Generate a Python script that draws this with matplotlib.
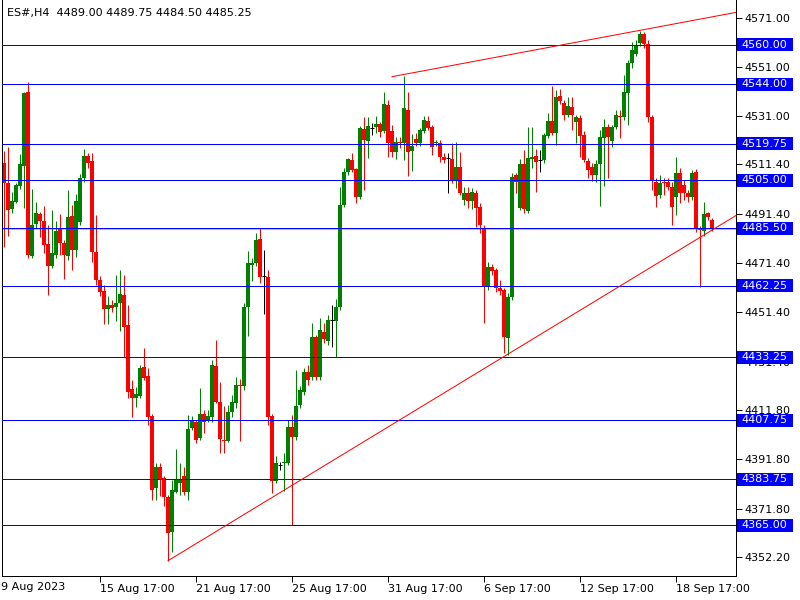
import numpy as np
import matplotlib
matplotlib.use("Agg")
import matplotlib.pyplot as plt
from matplotlib.patches import Rectangle

# ES#, H4 candles (oldest first)
opens = [
    4512.0, 4503.8, 4493.3, 4496.1, 4502.6, 4510.7, 4540.6, 4474.2, 4487.2, 4491.2,
    4488.4, 4479.1, 4470.2, 4474.6, 4485.1, 4479.5, 4474.2, 4490.4, 4476.7, 4488.0,
    4505.8, 4514.7, 4512.7, 4475.8, 4464.5, 4460.0, 4452.8, 4454.4, 4453.6, 4455.2,
    4458.4, 4446.3, 4420.4, 4416.7, 4417.5, 4429.3, 4425.6, 4409.4, 4380.3, 4388.8,
    4384.3, 4376.6, 4362.4, 4378.6, 4382.3, 4385.1, 4378.6, 4404.6, 4407.0, 4400.5,
    4410.2, 4407.8, 4409.0, 4429.7, 4415.1, 4399.7, 4399.3, 4411.1, 4414.7, 4422.0,
    4421.6, 4453.6, 4470.6, 4471.4, 4481.1, 4466.1, 4465.7, 4409.4, 4383.1, 4389.6,
    4390.4, 4390.4, 4405.0, 4400.9, 4413.9, 4419.1, 4427.2, 4425.2, 4441.4, 4425.2,
    4443.4, 4439.8, 4448.3, 4447.9, 4453.6, 4494.9, 4508.2, 4513.1, 4509.5, 4498.1,
    4525.6, 4520.8, 4526.1, 4526.5, 4527.7, 4524.8, 4535.4, 4525.0, 4516.3, 4520.4,
    4520.0, 4533.3, 4516.7, 4521.6, 4520.0, 4524.8, 4528.9, 4526.5, 4520.0, 4520.0,
    4514.3, 4513.9, 4513.5, 4504.6, 4510.3, 4496.9, 4499.7, 4496.5, 4499.7, 4494.1,
    4485.6, 4461.7, 4469.8, 4468.6, 4461.3, 4460.4, 4441.0, 4457.6, 4507.0, 4493.7,
    4511.5, 4492.4, 4513.5, 4514.7, 4513.1, 4513.1, 4522.8, 4528.9, 4524.0, 4539.0,
    4536.2, 4531.3, 4534.6, 4528.5, 4530.1, 4523.2, 4512.7, 4510.3, 4507.0, 4511.5,
    4522.0, 4526.5, 4520.8, 4526.5, 4530.9, 4530.5, 4540.2, 4552.4, 4556.4, 4560.5,
    4564.5, 4560.1, 4530.5, 4504.2, 4498.9, 4504.2, 4504.2, 4502.2, 4498.1, 4507.8,
    4503.0, 4499.7, 4498.1, 4508.2, 4485.6, 4484.3, 4491.6, 4489.00]
highs = [
    4516.7, 4518.4, 4500.1, 4503.8, 4515.5, 4540.6, 4544.7, 4501.4, 4496.1, 4492.0,
    4494.5, 4486.8, 4492.9, 4488.4, 4491.2, 4480.7, 4500.9, 4494.9, 4499.3, 4507.4,
    4517.6, 4515.9, 4515.9, 4490.8, 4466.1, 4462.5, 4458.0, 4456.4, 4466.5, 4468.6,
    4466.5, 4454.4, 4424.0, 4421.2, 4430.1, 4437.0, 4428.9, 4410.2, 4390.4, 4390.4,
    4385.1, 4377.4, 4383.5, 4396.1, 4390.4, 4388.8, 4409.8, 4409.4, 4407.8, 4420.8,
    4411.9, 4411.9, 4432.1, 4440.2, 4423.2, 4413.5, 4413.9, 4417.9, 4425.2, 4424.4,
    4455.2, 4476.2, 4473.4, 4483.5, 4485.6, 4476.6, 4468.6, 4410.2, 4393.2, 4390.8,
    4394.4, 4407.8, 4409.8, 4428.0, 4421.6, 4428.9, 4430.1, 4447.1, 4442.2, 4449.1,
    4447.1, 4450.3, 4454.4, 4456.8, 4502.2, 4509.9, 4513.9, 4515.9, 4509.9, 4526.9,
    4530.5, 4530.5, 4528.1, 4530.9, 4528.5, 4540.6, 4537.4, 4527.3, 4522.4, 4522.4,
    4547.1, 4540.6, 4523.6, 4524.0, 4526.1, 4530.9, 4530.9, 4527.3, 4521.2, 4521.2,
    4515.9, 4515.9, 4520.0, 4520.4, 4516.3, 4502.2, 4502.2, 4501.8, 4500.9, 4495.7,
    4486.8, 4471.8, 4471.0, 4469.4, 4464.5, 4461.3, 4459.2, 4507.8, 4507.8, 4513.5,
    4517.1, 4526.5, 4526.5, 4517.6, 4517.1, 4524.0, 4532.1, 4543.1, 4541.4, 4541.9,
    4537.4, 4538.6, 4538.6, 4531.3, 4531.3, 4524.8, 4513.9, 4511.9, 4513.1, 4525.2,
    4529.7, 4527.7, 4527.3, 4533.3, 4533.3, 4547.5, 4553.6, 4560.9, 4561.7, 4565.7,
    4565.3, 4561.7, 4531.3, 4505.8, 4507.0, 4505.8, 4505.8, 4504.2, 4514.3, 4509.9,
    4505.0, 4500.9, 4509.0, 4509.5, 4486.4, 4496.1, 4492.0, 4489.75]
lows = [
    4478.0, 4482.3, 4491.6, 4495.7, 4501.4, 4493.7, 4473.4, 4473.4, 4485.6, 4481.9,
    4475.4, 4458.4, 4469.4, 4473.4, 4474.6, 4464.9, 4472.6, 4468.6, 4473.8, 4486.8,
    4504.2, 4509.9, 4471.8, 4462.5, 4458.0, 4446.7, 4446.7, 4451.5, 4447.9, 4443.8,
    4433.3, 4416.7, 4409.0, 4413.1, 4416.7, 4424.0, 4405.8, 4375.4, 4375.4, 4377.0,
    4373.0, 4350.7, 4354.3, 4378.2, 4377.4, 4377.4, 4375.4, 4403.8, 4398.5, 4399.7,
    4402.5, 4407.0, 4407.0, 4414.7, 4394.4, 4394.4, 4398.9, 4409.0, 4412.7, 4399.3,
    4419.9, 4441.8, 4464.1, 4470.2, 4463.3, 4450.7, 4405.8, 4378.2, 4382.3, 4387.6,
    4379.0, 4389.6, 4365.3, 4399.7, 4412.7, 4417.9, 4422.0, 4424.0, 4424.0, 4424.0,
    4439.0, 4438.2, 4437.4, 4433.3, 4452.4, 4494.1, 4507.0, 4508.2, 4495.7, 4497.3,
    4500.9, 4513.9, 4523.2, 4524.0, 4522.4, 4524.0, 4514.3, 4514.3, 4513.5, 4517.9,
    4513.1, 4506.6, 4508.6, 4518.8, 4518.8, 4524.0, 4525.2, 4515.1, 4518.8, 4512.3,
    4511.9, 4499.7, 4503.8, 4501.8, 4498.9, 4494.9, 4493.7, 4493.3, 4486.0, 4483.5,
    4447.1, 4460.4, 4466.5, 4459.6, 4458.4, 4434.9, 4434.1, 4456.4, 4499.7, 4492.9,
    4491.6, 4491.6, 4509.9, 4500.1, 4508.2, 4511.9, 4522.0, 4523.2, 4519.2, 4535.8,
    4529.3, 4530.5, 4525.2, 4520.0, 4514.3, 4512.3, 4505.8, 4504.6, 4504.2, 4494.5,
    4502.6, 4505.8, 4518.4, 4525.6, 4522.0, 4529.3, 4527.3, 4550.4, 4555.2, 4559.3,
    4558.5, 4528.5, 4500.9, 4494.1, 4497.7, 4498.9, 4500.9, 4486.8, 4490.8, 4495.7,
    4496.9, 4496.1, 4496.9, 4483.9, 4461.7, 4482.3, 4488.8, 4484.50]
closes = [
    4503.8, 4492.9, 4496.5, 4503.0, 4511.5, 4540.2, 4474.6, 4486.8, 4491.6, 4488.4,
    4478.7, 4470.2, 4475.4, 4484.3, 4479.5, 4474.6, 4490.0, 4476.7, 4496.5, 4505.8,
    4514.7, 4511.9, 4475.8, 4464.5, 4459.6, 4452.8, 4454.4, 4453.2, 4455.2, 4458.8,
    4445.5, 4419.1, 4416.7, 4418.3, 4428.9, 4424.8, 4409.0, 4379.4, 4388.8, 4383.9,
    4376.6, 4362.0, 4379.4, 4383.9, 4383.9, 4378.6, 4404.2, 4407.4, 4399.7, 4410.2,
    4407.0, 4409.4, 4430.1, 4415.1, 4400.1, 4399.3, 4411.1, 4415.1, 4422.0, 4421.6,
    4453.6, 4471.4, 4471.4, 4480.7, 4465.7, 4466.1, 4409.0, 4383.1, 4390.4, 4389.6,
    4390.8, 4405.0, 4400.9, 4413.5, 4419.9, 4427.2, 4424.0, 4441.4, 4425.2, 4444.2,
    4440.6, 4448.3, 4448.3, 4453.6, 4494.9, 4508.2, 4513.5, 4509.0, 4498.1, 4526.1,
    4521.2, 4526.9, 4526.1, 4527.7, 4524.4, 4535.8, 4520.0, 4516.3, 4520.4, 4520.0,
    4534.2, 4516.3, 4518.8, 4520.0, 4525.2, 4529.3, 4526.1, 4518.4, 4520.4, 4514.3,
    4513.1, 4513.9, 4505.0, 4510.3, 4499.7, 4499.7, 4496.5, 4500.1, 4493.7, 4486.8,
    4462.1, 4469.8, 4468.2, 4461.3, 4460.0, 4441.4, 4457.6, 4506.2, 4504.2, 4511.5,
    4493.3, 4513.9, 4514.3, 4512.3, 4513.1, 4523.2, 4528.9, 4524.0, 4538.6, 4537.0,
    4531.3, 4535.0, 4531.3, 4530.5, 4522.8, 4513.1, 4509.0, 4507.0, 4511.5, 4522.4,
    4526.5, 4522.4, 4526.5, 4531.3, 4530.5, 4540.6, 4552.4, 4557.7, 4559.7, 4564.5,
    4560.1, 4530.5, 4505.0, 4498.5, 4503.8, 4503.8, 4502.2, 4494.1, 4507.8, 4499.7,
    4499.7, 4498.1, 4507.8, 4485.6, 4484.7, 4491.2, 4490.0, 4485.25]

# horizontal levels drawn on the chart
levels = [4560.00, 4544.00, 4519.75, 4505.00, 4485.50, 4462.25,
          4433.25, 4407.75, 4383.75, 4365.00]

# trend lines as (bar index, price) anchors, extended to the right
upper_trend = [(97, 4547.0), (159, 4565.8)]
lower_trend = [(41, 4350.7), (126, 4434.5)]

price_ticks = [4571.00, 4551.00, 4531.00, 4511.40, 4491.40, 4471.40,
               4451.40, 4431.40, 4411.80, 4391.80, 4371.80, 4352.20]
date_ticks = [24, 48, 72, 96, 120, 144, 168]
date_labels = ['15 Aug 17:00', '21 Aug 17:00', '25 Aug 17:00', '31 Aug 17:00',
               '6 Sep 17:00', '12 Sep 17:00', '18 Sep 17:00']
first_date = '9 Aug 2023'
title = 'ES#,H4  4489.00 4489.75 4484.50 4485.25'

o = np.array(opens)
h = np.array(highs)
l = np.array(lows)
c = np.array(closes)
x = np.arange(len(o))

plt.rcParams['font.family'] = 'DejaVu Sans'
fs = 8
fig = plt.figure(figsize=(8, 6), dpi=100)
W, H = 800.0, 600.0
ax = fig.add_axes([2 / W, 24 / H, 734 / W, 576 / H])
ax.set_xlim(-0.5, 183)
ax.set_ylim(4344.5, 4578.1)
px = 1.0 * 72 / 100  # one pixel in points

# bid line
ax.axhline(c[-1], color='#c0c0c0', lw=px, zorder=1)

doji = np.abs(c - o) < 0.1
up = (c > o) & ~doji
down = (c < o) & ~doji
for mask, col in [(up, '#008000'), (down, '#ff0000')]:
    ax.vlines(x[mask], l[mask], h[mask], color=col, lw=px, zorder=2)
    body = np.maximum(np.abs(c[mask] - o[mask]), 0.45)
    ax.bar(x[mask], body, bottom=np.minimum(o[mask], c[mask]), width=0.8,
           color=col, linewidth=0, zorder=2)
ax.vlines(x[doji], l[doji], h[doji], color='black', lw=px, zorder=2)
ax.hlines(c[doji], x[doji] - 0.4, x[doji] + 0.4, color='black', lw=px, zorder=2)

for lv in levels:
    ax.axhline(lv, color='#0000ff', lw=px, zorder=3)

x_end = ax.get_xlim()[1]
for (x0, y0), (x1, y1) in [upper_trend, lower_trend]:
    k = (y1 - y0) / (x1 - x0)
    ax.plot([x0, x_end], [y0, y0 + k * (x_end - x0)], color='#ff0000',
            lw=px, zorder=4, clip_on=False)

# price labels of the levels on the axis
ytr = ax.get_yaxis_transform()
box_h = 13 / (576 / (4578.1 - 4344.5))
for lv in levels:
    ax.add_patch(Rectangle((1 + 1 / 734, lv - box_h / 2), 56 / 734, box_h,
                           transform=ytr, facecolor='#0000ff', edgecolor='none',
                           clip_on=False, zorder=5))
    ax.text(1 + 5 / 734, lv, f'{lv:.2f}', transform=ytr, color='white',
            fontsize=fs, va='center', ha='left', zorder=6, clip_on=False)

ax.yaxis.tick_right()
ax.set_yticks(price_ticks)
ax.set_yticklabels([f'{p:.2f}' for p in price_ticks])
ax.tick_params(axis='y', direction='out', length=4, width=px, pad=2,
               labelsize=fs, colors='black')
ax.set_xticks(date_ticks)
ax.set_xticklabels(date_labels)
ax.tick_params(axis='x', direction='out', length=4, width=px, pad=2,
               labelsize=fs, colors='black')
for t in ax.get_xticklabels():
    t.set_ha('left')
ax.text(-0.75, -6.5 / 576, first_date, transform=ax.get_xaxis_transform(),
        fontsize=fs, ha='left', va='top', clip_on=False)

ax.spines['top'].set_visible(False)
for s in ['left', 'right', 'bottom']:
    ax.spines[s].set_linewidth(px)
    ax.spines[s].set_color('black')

fig.text(7 / W, 1 - 13 / H, title, fontsize=fs, va='center', ha='left')

fig.savefig('out.png', dpi=100)
